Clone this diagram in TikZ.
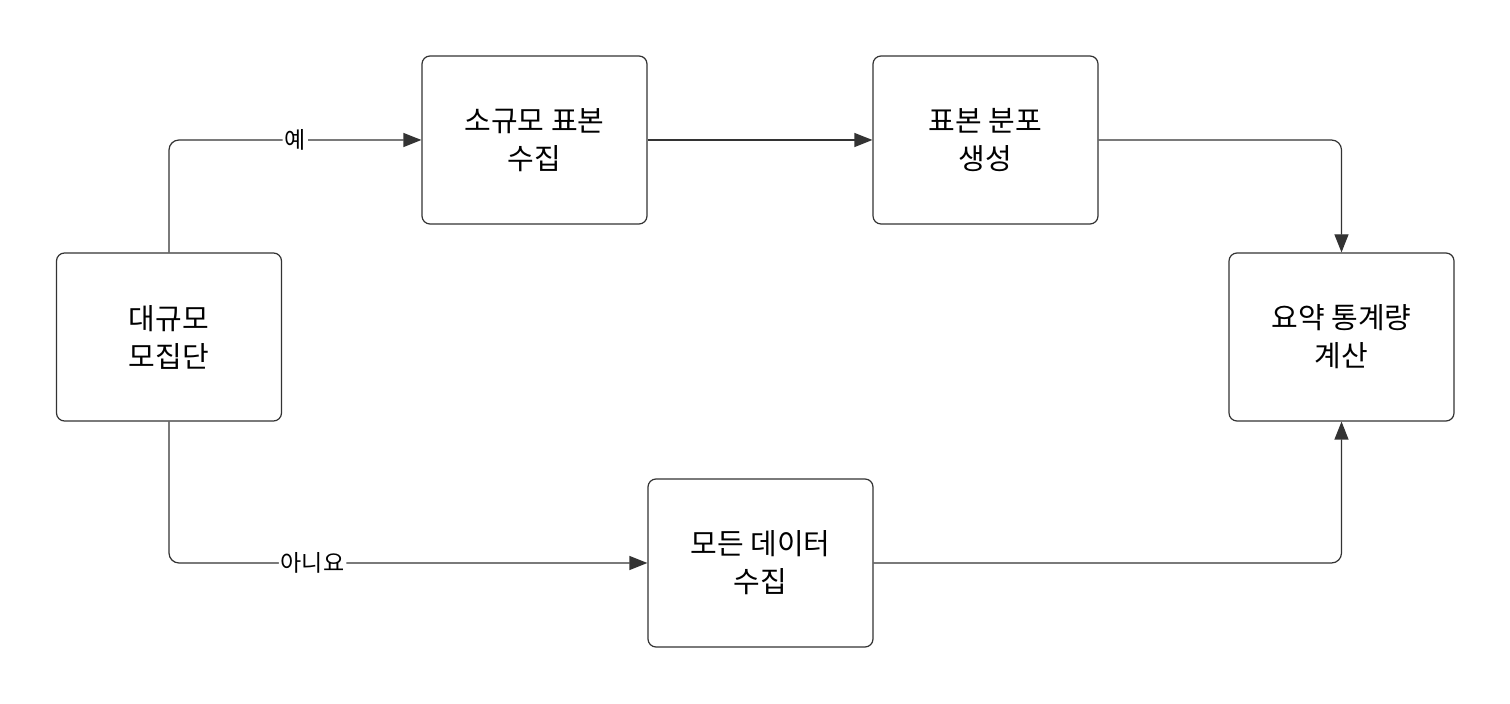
\documentclass[tikz,border=0pt]{standalone}
\usepackage{fontspec}
\setmainfont{Noto Sans CJK KR}
\usetikzlibrary{arrows.meta}
\begin{document}
\begin{tikzpicture}[x=0.5pt,y=-0.5pt,
  box/.style={draw=black!80,line width=0.6pt,rounded corners=4pt,minimum width=112.5pt,minimum height=84pt,align=center,font=\fontsize{14.5}{19}\selectfont,inner sep=0pt},
  arr/.style={draw=black!80,line width=0.6pt,rounded corners=5pt,-{Triangle[length=9pt,width=7pt]}},
  lab/.style={fill=white,inner sep=1pt,font=\fontsize{11.5}{13}\selectfont}]
\useasboundingbox[fill=white] (0,0) rectangle (1510,704);
\node[box] (a) at (169,337) {대규모\\모집단};
\node[box] (b) at (534.5,140) {소규모 표본\\수집};
\node[box] (c) at (985.5,140) {표본 분포\\생성};
\node[box] (d) at (1341.5,337) {요약 통계량\\계산};
\node[box] (e) at (760.5,563) {모든 데이터\\수집};
\draw[arr] (a.north) |- node[lab,pos=0.75]{예} (b.west);
\draw[arr] (a.south) |- node[lab,pos=0.65]{아니요} (e.west);
\draw[arr] (b.east) -- (c.west);
\draw[arr] (c.east) -| (d.north);
\draw[arr] (e.east) -| (d.south);
\end{tikzpicture}
\end{document}
